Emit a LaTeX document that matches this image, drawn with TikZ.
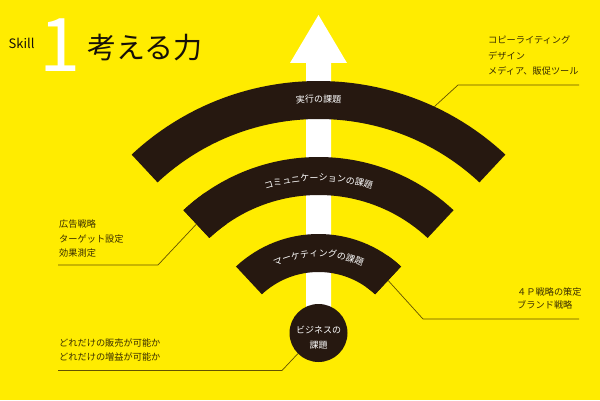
\documentclass[tikz,border=0pt]{standalone}
\usepackage{fontspec}
\setmainfont{Noto Sans CJK JP}
\usetikzlibrary{decorations.text,calc}
\definecolor{bgy}{RGB}{255,236,0}
\definecolor{arcc}{RGB}{38,24,16}
\definecolor{lblc}{RGB}{58,46,0}
\definecolor{linec}{RGB}{100,82,0}
\definecolor{titlec}{RGB}{22,16,8}
\tikzset{
  band/.style={fill=arcc},
  lbl/.style={anchor=base west, inner sep=0pt, text=lblc, font=\fontsize{9.2}{9.2}\selectfont},
  conn/.style={draw=linec, line width=0.7pt},
  arctext/.style={decorate, decoration={text along path, text align=center, text color=white, text={|\fontsize{9}{9}\selectfont|#1}}}
}
\begin{document}
\begin{tikzpicture}[x=1pt,y=1pt]
\fill[bgy] (0,0) rectangle (600,400);
\useasboundingbox (0,0) rectangle (600,400);
\coordinate (C) at (318.5,45);

% title
\node[anchor=base west, inner sep=0pt, text=titlec, font=\fontsize{13}{13}\selectfont] (skill) at (8.5,351.7) {Skill};
\node[anchor=base, inner sep=0pt, text=white, font=\fontsize{74}{74}\selectfont] (one) at (60,328) {1};
\node[anchor=base west, inner sep=0pt, text=titlec, font=\fontsize{29}{29}\selectfont] (title) at (87,341.5) {考える力};

% arrow
\fill[white] (318.5,385) -- (347,337) -- (331,337) -- (331,80) -- (306,80) -- (306,337) -- (290,337) -- cycle;

% connector end points
\coordinate (t1) at ($(C)+(65:274)$);
\coordinate (m1) at ($(C)+(133:179)$);
\coordinate (w1) at ($(C)+(47:102)$);
\coordinate (tr0) at (579,315);
\coordinate (tr1) at (458,315);
\coordinate (lm0) at (58,135);
\coordinate (lm1) at (158,135);
\coordinate (bl0) at (58,29.5);
\coordinate (bl1) at (282,29.5);
\coordinate (br0) at (579,81);
\coordinate (br1) at (423,81);

% arcs
\fill[band] ($(C)+(47:274)$) arc[start angle=47,end angle=133,radius=274] -- ($(C)+(133:236)$) arc[start angle=133,end angle=47,radius=236] -- cycle;
\fill[band] ($(C)+(47:198)$) arc[start angle=47,end angle=133,radius=198] -- ($(C)+(133:160)$) arc[start angle=133,end angle=47,radius=160] -- cycle;
\fill[band] ($(C)+(47:121)$) arc[start angle=47,end angle=133,radius=121] -- ($(C)+(133:83)$) arc[start angle=133,end angle=47,radius=83] -- cycle;

% circle
\node[circle, fill=arcc, minimum size=58pt, inner sep=0pt] (biz) at (318.5,67) {};
\node[text=white, align=center, inner sep=0pt, font=\fontsize{9}{15}\selectfont] (biztxt) at (318.5,62.5) {ビジネスの\\課題};

% connectors
\draw[conn] (tr0) -- (tr1) -- (t1);
\draw[conn] (lm0) -- (lm1) -- (m1);
\draw[conn] (bl0) -- (bl1) -- (biz.225);
\draw[conn] (br0) -- (br1) -- (w1);

% redraw arc ends over connectors (ends hidden under bands)
\fill[band] ($(C)+(125:198)$) arc[start angle=125,end angle=133,radius=198] -- ($(C)+(133:160)$) arc[start angle=133,end angle=125,radius=160] -- cycle;
\fill[band] ($(C)+(47:121)$) arc[start angle=47,end angle=55,radius=121] -- ($(C)+(55:83)$) arc[start angle=55,end angle=47,radius=83] -- cycle;

% arc texts
\path[arctext={実行の課題}] ($(C)+(140:252.5)$) arc[start angle=140,end angle=40,radius=252.5];
\path[arctext={コミュニケーションの課題}] ($(C)+(140:174)$) arc[start angle=140,end angle=40,radius=174];
\path[arctext={マーケティングの課題}] ($(C)+(140:98.5)$) arc[start angle=140,end angle=40,radius=98.5];

% labels
\node[lbl] (tra) at (488,356) {コピーライティング};
\node[lbl] (trb) at (488,341) {デザイン};
\node[lbl] (trc) at (488,326) {メディア、販促ツール};
\node[lbl] (lma) at (59,172.5) {広告戦略};
\node[lbl] (lmb) at (59,158) {ターゲット設定};
\node[lbl] (lmc) at (59,143.5) {効果測定};
\node[lbl] (bla) at (59,53.5) {どれだけの販売が可能か};
\node[lbl] (blb) at (59,39.5) {どれだけの増益が可能か};
\node[lbl] (bra) at (517,104.5) {４Ｐ戦略の策定};
\node[lbl] (brb) at (517,91.5) {ブランド戦略};
\end{tikzpicture}
\end{document}
